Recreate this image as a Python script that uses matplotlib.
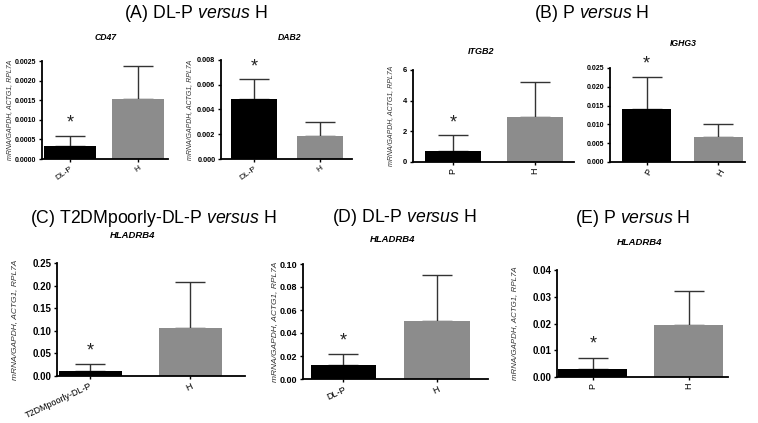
import matplotlib
matplotlib.use('Agg')
import matplotlib.pyplot as plt
from matplotlib.ticker import FormatStrFormatter

plt.rcParams['font.family'] = ['Liberation Sans', 'DejaVu Sans']
plt.rcParams['mathtext.fontset'] = 'custom'
plt.rcParams['mathtext.rm'] = 'Liberation Sans'
plt.rcParams['mathtext.it'] = 'Liberation Sans:italic'

W, H = 758, 423

# data (mean and top of the error bar)
genes = ['CD47', 'DAB2', 'ITGB2', 'IGHG3', 'HLADRB4', 'HLADRB4', 'HLADRB4']
groups = [['DL-P', 'H'], ['DL-P', 'H'], ['P', 'H'], ['P', 'H'],
          ['T2DMpoorly-DL-P', 'H'], ['DL-P', 'H'], ['P', 'H']]
means = [[0.00034, 0.00152], [0.00482, 0.00183], [0.72, 2.95], [0.0140, 0.00665],
         [0.011, 0.107], [0.0125, 0.0504], [0.0031, 0.0194]]
err_top = [[0.00058, 0.00237], [0.00646, 0.00299], [1.75, 5.21], [0.0227, 0.0102],
           [0.0255, 0.207], [0.022, 0.0907], [0.0071, 0.0321]]
star_y = [0.00092, 0.0074, 2.55, 0.026, 0.056, 0.033, 0.0125]
ytop = [0.0025, 0.008, 6, 0.025, 0.25, 0.10, 0.04]
ystep = [0.0005, 0.002, 2, 0.005, 0.05, 0.02, 0.01]
yfmt = ['%.4f', '%.3f', '%d', '%.3f', '%.2f', '%.2f', '%.2f']
ylab = 'mRNA/GAPDH, ACTG1, RPL7A'
show_ylab = [True, True, True, False, True, True, True]

group_titles = ['(A) DL-P $\\mathit{versus}$ H', '(B) P $\\mathit{versus}$ H',
                '(C) T2DMpoorly-DL-P $\\mathit{versus}$ H', '(D) DL-P $\\mathit{versus}$ H',
                '(E) P $\\mathit{versus}$ H']

# layout in pixels: axes box (x0, x1, ytop, ybottom), xlim, bar width
boxes = [(42, 168, 61, 159), (221, 352, 60, 159), (413, 574, 70, 162), (610, 745, 68, 162),
         (57, 245, 263, 376), (303, 488, 264, 379), (557, 728, 270, 377)]
xlims = [(-0.41, 1.44), (-0.5, 1.48), (-0.49, 1.48), (-0.51, 1.37),
         (-0.33, 1.55), (-0.43, 1.54), (-0.375, 1.41)]
widths = [0.76, 0.7, 0.68, 0.68, 0.63, 0.7, 0.72]
rots = [35, 35, 90, 60, 25, 25, 90]
gene_pos = [(106, 37), (290, 38), (481, 52), (683, 43), (133, 235), (393, 239), (640, 242)]
ylab_x = [10, 190, 391, 566, 15, 275, 515]
tick_fs = [5, 5.3, 5.5, 5, 7, 6.5, 7]
xt_fs = [6, 6, 6.5, 6.5, 6.5, 6.5, 6.5]
ylab_fs = [5, 5, 5, 5, 6, 6, 5.7]
gene_fs = [6.2, 6.2, 6.5, 6.2, 6.8, 6.8, 6.8]
title_pos = [(196, 14), (592, 14), (153, 218), (404, 217), (633, 218)]

fig = plt.figure(figsize=(W / 100, H / 100), dpi=100)

colors = ['#000000', '#8c8c8c']

for i in range(7):
    x0, x1, yt, yb = boxes[i]
    ax = fig.add_axes([x0 / W, 1 - yb / H, (x1 - x0) / W, (yb - yt) / H])
    xs = [0, 1]
    ax.bar(xs, means[i], width=widths[i], color=colors, zorder=2)
    up = [err_top[i][k] - means[i][k] for k in range(2)]
    ax.errorbar(xs, means[i], yerr=[[0, 0], up], fmt='none', ecolor='#333333',
                elinewidth=1, capsize=11, capthick=1, zorder=1)
    ax.text(0, star_y[i], '*', ha='center', va='center', fontsize=13, color='#222222')
    ax.set_xlim(*xlims[i])
    ax.set_ylim(0, ytop[i])
    n = int(round(ytop[i] / ystep[i]))
    ax.set_yticks([ystep[i] * k for k in range(n + 1)])
    ax.yaxis.set_major_formatter(FormatStrFormatter(yfmt[i]))
    ax.set_xticks(xs)
    ax.set_xticklabels(groups[i], rotation=rots[i], fontsize=xt_fs[i],
                       ha='right' if rots[i] < 90 else 'center',
                       rotation_mode='anchor' if rots[i] < 90 else 'default')
    for lb in ax.get_yticklabels():
        lb.set_fontsize(tick_fs[i])
        lb.set_fontweight('bold')
    ax.spines['top'].set_visible(False)
    ax.spines['right'].set_visible(False)
    ax.spines['left'].set_linewidth(1.3)
    ax.spines['bottom'].set_linewidth(1.3)
    ax.tick_params(axis='both', direction='out', length=2.5, width=1, pad=1.5)
    ax.set_facecolor('none')
    gx, gy = gene_pos[i]
    fig.text(gx / W, 1 - gy / H, genes[i], ha='center', va='center',
             fontsize=gene_fs[i], fontweight='bold', fontstyle='italic')
    if show_ylab[i]:
        fig.text(ylab_x[i] / W, 1 - (yt + yb) / 2 / H, ylab, rotation=90, ha='center',
                 va='center', fontsize=ylab_fs[i], fontstyle='italic', color='#333333')

for t, (tx, ty) in zip(group_titles, title_pos):
    fig.text(tx / W, 1 - ty / H, t, ha='center', va='center', fontsize=12.7)

fig.savefig('out.png', dpi=100)
